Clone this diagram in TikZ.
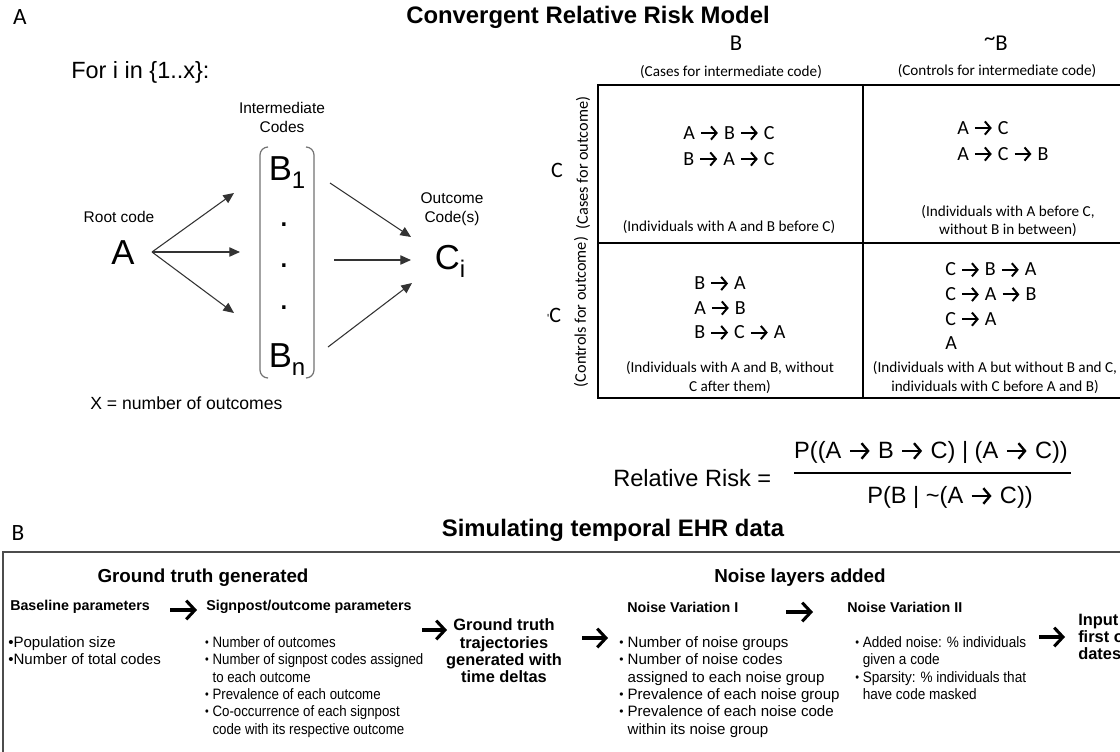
\documentclass[tikz,border=0pt]{standalone}
\usepackage{fontspec}
\setmainfont{Liberation Sans}
\newfontfamily\calib{Carlito}
\usetikzlibrary{arrows.meta}
\newcommand\fs[2]{\fontsize{#1}{#2}\selectfont}
\newcommand\arr{\tikz[baseline=-0.3em]{\path (0,0) (1em,0); \draw[line width=0.1em,-{Straight Barb[length=0.28em,width=0.66em]}] (0.08em,0) -- (0.92em,0);}}
\newcommand\lowsub[1]{\raisebox{-0.22em}{\fs{18}{18}#1}}
\newcommand\sbul{\raisebox{0.08em}{\fs{9}{9}\textbullet}\ }
\newcommand\sind{\phantom{\sbul}}
\begin{document}
\begin{tikzpicture}[x=0.75pt,y=-0.75pt,
  every node/.style={inner sep=0pt},
  tit/.style={font=\bfseries\fs{17.9}{21}},
  big/.style={font=\fs{26}{30}},
  lab/.style={font=\fs{11.6}{14.3},align=center},
  conn/.style={draw=black!80,line width=0.8pt,-{Triangle[length=8pt,width=7pt]}},
  chev/.style={line width=2.3pt,-{Straight Barb[length=6.5pt,width=14pt]}},
  brk/.style={draw=black!55,line width=0.9pt,rounded corners=6},
  tbl/.style={line width=1.5pt},
  cal/.style={font=\calib\fs{11.4}{13.8},align=center},
  seq/.style={font=\calib\fs{15}{19.5},align=left},
  secl/.style={font=\calib\fs{17.5}{20}},
  shd/.style={font=\bfseries\fs{14.1}{17}},
  sub/.style={font=\bfseries\fs{10.7}{13},anchor=west},
  blk/.style={font=\fs{11.3}{12.95},anchor=north west,align=left},
  bblk/.style={font=\bfseries\fs{12.3}{12.95},align=center}]
\useasboundingbox (0,0) rectangle (1120,751);
\fill[white] (0,0) rectangle (1120,751);
\clip (0,0) rectangle (1120,751);

% ---------- Section A ----------
\node[secl] (labA) at (20,17) {A};
\node[tit] (titA) at (588,17) {Convergent Relative Risk Model};
\node[font=\fs{17.6}{21},anchor=west] (fori) at (71,72) {For i in \{1..x\}:};

\node[lab] (inter) at (282,117) {Intermediate\\Codes};
\node[big,anchor=base] (B1) at (287,180.5) {B\lowsub{1}};
\node[big,anchor=base] (d1) at (284,226) {.};
\node[big,anchor=base] (d2) at (284,267) {.};
\node[big,anchor=base] (d3) at (284,309) {.};
\node[big,anchor=base] (Bn) at (287,367.5) {B\lowsub{n}};
\draw[brk] (268,147) -- (260,147) -- (260,378) -- (268,378);
\draw[brk] (306,147) -- (314,147) -- (314,378) -- (306,378);

\node[lab] (root) at (119,217) {Root code};
\node[big] (A) at (123,253) {A};
\node[lab] (outc) at (452,209) {Outcome\\Code(s)};
\node[big,anchor=base] (Ci) at (450,269.5) {C\lowsub{i}};

\coordinate (As) at (152,252);
\coordinate (t1) at (234,193);
\coordinate (t2) at (240,252);
\coordinate (t3) at (234,313);
\draw[conn] (As) -- (t1);
\draw[conn] (As) -- (t2);
\draw[conn] (As) -- (t3);
\coordinate (s4) at (330,183); \coordinate (u1) at (411,237);
\coordinate (s5) at (334,260); \coordinate (u2) at (411,260);
\coordinate (s6) at (328,347); \coordinate (u3) at (412,283);
\draw[conn] (s4) -- (u1);
\draw[conn] (s5) -- (u2);
\draw[conn] (s6) -- (u3);

\node[font=\fs{13.2}{16},anchor=west] (xnum) at (90,403) {X = number of outcomes};

% ---------- Table ----------
\node[font=\calib\fs{17}{20}] (hB) at (736,43) {B};
\node[font=\calib\fs{17}{20}] (hnB) at (996,43) {\raisebox{0.22em}{\textasciitilde}B};
\node[cal] (hBs) at (731,72) {(Cases for intermediate code)};
\node[cal] (hnBs) at (997,71) {(Controls for intermediate code)};
\draw[tbl] (598,85) rectangle (1140,398);
\draw[tbl] (863,85) -- (863,398);
\draw[tbl] (598,243) -- (1140,243);

\node[font=\calib\fs{16.5}{18}] (rC) at (557,170) {C};
\node[font=\calib\fs{12.2}{14},rotate=90] (rCs) at (583,163) {(Cases for outcome)};
\node[font=\calib\fs{16.5}{18}] (rnC) at (554,315) {{\fs{9}{9}\textquotesingle}C};
\node[font=\calib\fs{12.2}{14},rotate=90] (rnCs) at (581,312) {(Controls for outcome)};

\node[seq,align=center] (c11) at (729,146) {A \arr\ B \arr\ C\\B \arr\ A \arr\ C};
\node[cal] (c11d) at (729,227) {(Individuals with A and B before C)};
\node[seq,anchor=west] (c12) at (957,141) {A \arr\ C\\A \arr\ C \arr\ B};
\node[cal] (c12d) at (1008,221) {(Individuals with A before C,\\without B in between)};
\node[seq,font=\calib\fs{15}{18.4},anchor=west] (c21) at (694,308) {B \arr\ A\\A \arr\ B\\B \arr\ C \arr\ A};
\node[cal] (c21d) at (730,377.5) {(Individuals with A and B, without\\C after them)};
\node[seq,font=\calib\fs{15}{18.5},anchor=west] (c22) at (945,306) {C \arr\ B \arr\ A\\C \arr\ A \arr\ B\\C \arr\ A\\A};
\node[cal] (c22d) at (995,377.5) {(Individuals with A but without B and C,\\individuals with C before A and B)};

% ---------- Formula ----------
\node[font=\fs{17.7}{21},anchor=west] (rr) at (613,478) {Relative Risk =};
\node[font=\fs{17.7}{21}] (num) at (931,452) {P((A \arr\ B \arr\ C) | (A \arr\ C))};
\node[font=\fs{17.7}{21}] (den) at (950,497) {P(B | \textasciitilde(A \arr\ C))};
\coordinate (fl) at (794,473); \coordinate (fr) at (1071,473);
\draw[line width=1.4pt] (fl) -- (fr);

% ---------- Section B ----------
\node[secl] (labB) at (18,533) {B};
\node[tit] (titB) at (613,530) {Simulating temporal EHR data};
\draw[draw=black!70,line width=1.1pt] (3,552) rectangle (1135,765);

\node[shd] (gtg) at (203,578) {Ground truth generated};
\node[shd] (nla) at (800,578) {Noise layers added};

\node[sub] (bp) at (10,607) {Baseline parameters};
\node[sub] (sp) at (206,607) {Signpost/outcome parameters};
\node[sub] (nv1) at (627,607) {Noise Variation I};
\node[sub] (nv2) at (847,607) {Noise Variation II};

\node[blk] (bpl) at (8,636.5) {\textbullet Population size\\\textbullet Number of total codes};
\node[blk,xscale=0.88,transform shape] (spl) at (205,636.5) {\sbul Number of outcomes\\\sbul Number of signpost codes assigned\\\sind to each outcome\\\sbul Prevalence of each outcome\\\sbul Co-occurrence of each signpost\\\sind code with its respective outcome};
\node[bblk] (gtt) at (504,651) {Ground truth\\trajectories\\generated with\\time deltas};
\node[blk] (nv1l) at (619,636.5) {\sbul Number of noise groups\\\sbul Number of noise codes\\\sind assigned to each noise group\\\sbul Prevalence of each noise group\\\sbul Prevalence of each noise code\\\sind within its noise group};
\node[blk,xscale=0.9,transform shape] (nv2l) at (855,636.5) {\sbul Added noise: \% individuals\\\sind given a code\\\sbul Sparsity: \% individuals that\\\sind have code masked};
\node[bblk,align=left,anchor=north west] (inp) at (1078,613) {Input matrix of\\ first occurrence\\ dates};

\coordinate (a1s) at (170,610); \coordinate (a1e) at (197,610);
\coordinate (a2s) at (422,630); \coordinate (a2e) at (447,630);
\coordinate (a3s) at (582,638); \coordinate (a3e) at (608,638);
\coordinate (a4s) at (786,612); \coordinate (a4e) at (813,612);
\coordinate (a5s) at (1039,637); \coordinate (a5e) at (1065,637);
\draw[chev] (a1s) -- (a1e);
\draw[chev] (a2s) -- (a2e);
\draw[chev] (a3s) -- (a3e);
\draw[chev] (a4s) -- (a4e);
\draw[chev] (a5s) -- (a5e);
\end{tikzpicture}
\end{document}
